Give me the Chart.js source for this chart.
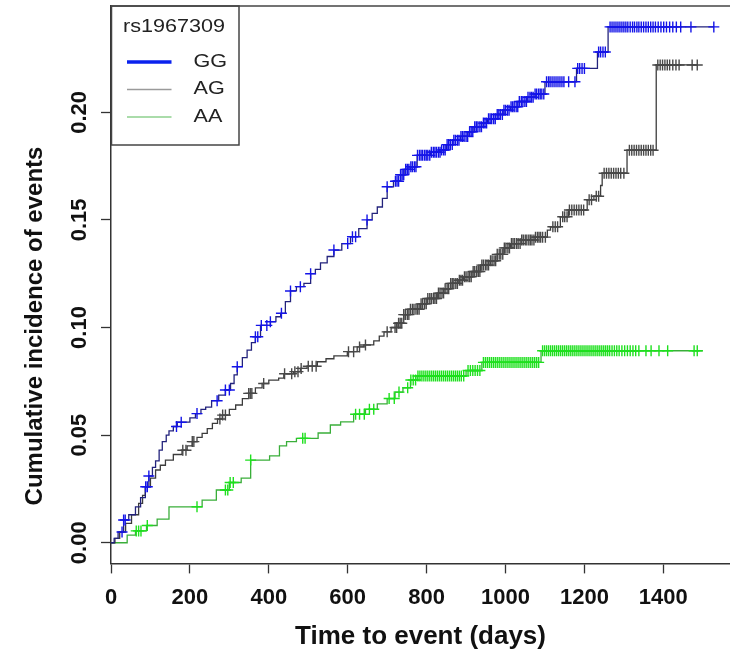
<!DOCTYPE html>
<html>
<head>
<meta charset="utf-8">
<script src="https://cdn.jsdelivr.net/npm/chart.js@4.4.1/dist/chart.umd.min.js"></script>
<style>
html,body{margin:0;padding:0;background:#ffffff;}
#wrap{width:730px;height:658px;position:relative;}
</style>
</head>
<body>
<div id="wrap"><canvas id="c" width="730" height="658"></canvas></div>
<script>
// ---------- data ----------
const legendTitle = 'rs1967309';
const groupNames = ['GG', 'AG', 'AA'];
const xTicks = [0, 200, 400, 600, 800, 1000, 1200, 1400];
const yTicks = [0, 0.05, 0.10, 0.15, 0.20];
const xTitle = 'Time to event (days)';
const yTitle = 'Cumulative incidence of events';

// step functions: time (days) at which the cumulative incidence jumps to value
const ggTimes  = [0, 8, 18, 32, 45, 62, 75, 87, 96, 105, 113, 122, 130, 140, 147, 158, 168, 200, 214, 228, 240, 255, 273, 290, 303, 312, 320, 333, 345, 356, 366, 379, 404, 418, 430, 442, 455, 470, 489, 506, 518, 531, 548, 565, 585, 607, 628, 649, 662, 675, 688, 700, 716, 734, 745, 759, 776, 810, 835, 850, 866, 886, 905, 920, 940, 954, 975, 996, 1013, 1035, 1055, 1075, 1100, 1180, 1233, 1260, 1528];
const ggValues = [0, 0.002, 0.005, 0.0106, 0.013, 0.0167, 0.021, 0.026, 0.031, 0.035, 0.038, 0.043, 0.047, 0.050, 0.052, 0.054, 0.056, 0.058, 0.060, 0.062, 0.063, 0.066, 0.0686, 0.071, 0.074, 0.078, 0.0818, 0.086, 0.0895, 0.093, 0.0957, 0.101, 0.1027, 0.105, 0.1066, 0.112, 0.117, 0.119, 0.1205, 0.125, 0.127, 0.130, 0.133, 0.136, 0.139, 0.1422, 0.146, 0.150, 0.153, 0.156, 0.160, 0.1654, 0.168, 0.171, 0.1735, 0.1747, 0.180, 0.1815, 0.1825, 0.185, 0.187, 0.1888, 0.191, 0.1933, 0.195, 0.197, 0.199, 0.201, 0.2026, 0.205, 0.207, 0.2085, 0.2142, 0.2204, 0.228, 0.2397, 0.2397];

const agTimes  = [0, 10, 22, 37, 52, 70, 80, 87, 100, 113, 125, 138, 158, 180, 193, 206, 218, 231, 244, 257, 270, 282, 300, 316, 333, 349, 366, 383, 400, 425, 438, 463, 480, 497, 523, 545, 565, 599, 624, 641, 666, 680, 692, 710, 725, 742, 759, 784, 802, 827, 844, 861, 880, 894, 915, 937, 958, 979, 996, 1013, 1040, 1075, 1106, 1114, 1139, 1160, 1207, 1224, 1241, 1245, 1308, 1382, 1486];
const agValues = [0, 0.002, 0.005, 0.009, 0.013, 0.0183, 0.022, 0.026, 0.030, 0.0338, 0.036, 0.0384, 0.041, 0.043, 0.045, 0.047, 0.049, 0.0508, 0.053, 0.0555, 0.0575, 0.0593, 0.062, 0.064, 0.067, 0.0694, 0.072, 0.074, 0.0756, 0.0765, 0.0785, 0.0795, 0.081, 0.082, 0.0841, 0.0855, 0.0868, 0.0888, 0.091, 0.0919, 0.0938, 0.096, 0.098, 0.100, 0.102, 0.106, 0.1085, 0.111, 0.1135, 0.116, 0.118, 0.1205, 0.122, 0.1236, 0.126, 0.129, 0.131, 0.134, 0.137, 0.139, 0.1407, 0.142, 0.1453, 0.1468, 0.1515, 0.1546, 0.1594, 0.161, 0.166, 0.1717, 0.1824, 0.222, 0.222];

const aaTimes  = [0, 41, 62, 90, 117, 147, 231, 267, 300, 330, 354, 402, 427, 445, 470, 525, 556, 582, 615, 645, 675, 700, 720, 740, 759, 776, 900, 940, 1090, 1500];
const aaValues = [0, 0.0035, 0.0055, 0.008, 0.011, 0.0167, 0.0198, 0.0245, 0.028, 0.030, 0.0384, 0.0404, 0.045, 0.047, 0.0485, 0.051, 0.0547, 0.0562, 0.0597, 0.062, 0.0645, 0.067, 0.070, 0.072, 0.0756, 0.0775, 0.0800, 0.0838, 0.0892, 0.0892];

// censoring times (+ marks)
const ggCensor = [28, 32, 36, 88, 92, 96, 166, 178, 218, 269, 290, 300, 320, 366, 372, 381, 395, 404, 432, 455, 480, 506, 565, 600, 612, 620, 649, 700, 721, 725, 729, 734, 738, 742, 747, 751, 755, 760, 764, 769, 773, 777, 782, 786, 790, 795, 799, 803, 808, 812, 817, 821, 825, 830, 834, 838, 843, 847, 852, 856, 860, 865, 869, 873, 878, 882, 887, 891, 895, 900, 904, 909, 913, 917, 922, 926, 930, 935, 939, 944, 948, 952, 957, 961, 965, 970, 974, 979, 983, 987, 992, 996, 1000, 1005, 1009, 1014, 1018, 1022, 1027, 1031, 1035, 1040, 1044, 1049, 1053, 1057, 1062, 1066, 1070, 1075, 1079, 1084, 1088, 1092, 1097, 1104, 1109, 1113, 1118, 1123, 1128, 1133, 1138, 1143, 1148, 1160, 1176, 1183, 1188, 1194, 1200, 1236, 1241, 1247, 1253, 1265, 1270, 1275, 1280, 1285, 1290, 1295, 1300, 1305, 1310, 1316, 1322, 1327, 1333, 1338, 1344, 1350, 1356, 1362, 1368, 1374, 1380, 1387, 1394, 1401, 1408, 1416, 1424, 1433, 1444, 1470, 1528];
const agCensor = [182, 190, 206, 210, 276, 283, 290, 349, 353, 357, 387, 440, 458, 466, 474, 482, 500, 510, 520, 602, 615, 630, 645, 700, 720, 724, 729, 733, 737, 742, 746, 751, 755, 759, 764, 768, 773, 777, 781, 786, 790, 795, 799, 803, 808, 812, 817, 821, 825, 830, 834, 839, 843, 847, 852, 856, 861, 865, 869, 874, 878, 883, 887, 891, 896, 900, 905, 909, 913, 918, 922, 927, 931, 935, 940, 944, 949, 953, 957, 962, 966, 971, 975, 979, 984, 988, 993, 997, 1001, 1006, 1010, 1015, 1019, 1023, 1028, 1032, 1037, 1041, 1045, 1050, 1054, 1059, 1063, 1067, 1072, 1076, 1081, 1085, 1089, 1094, 1101, 1120, 1126, 1132, 1145, 1150, 1156, 1162, 1168, 1174, 1180, 1186, 1192, 1198, 1212, 1218, 1230, 1236, 1250, 1256, 1262, 1268, 1274, 1280, 1286, 1292, 1300, 1314, 1320, 1326, 1332, 1338, 1344, 1350, 1356, 1362, 1368, 1374, 1386, 1392, 1398, 1404, 1410, 1416, 1424, 1432, 1440, 1473, 1486];
const aaCensor = [64, 70, 76, 92, 218, 290, 296, 302, 310, 354, 486, 492, 620, 630, 642, 655, 666, 705, 718, 730, 752, 760, 766, 772, 778, 783, 788, 793, 798, 803, 808, 813, 818, 823, 828, 833, 838, 843, 848, 853, 858, 863, 868, 873, 878, 883, 888, 894, 905, 911, 917, 923, 929, 935, 944, 949, 954, 959, 964, 969, 974, 979, 984, 989, 994, 999, 1004, 1009, 1014, 1019, 1024, 1029, 1034, 1039, 1044, 1049, 1054, 1059, 1064, 1069, 1074, 1079, 1084, 1094, 1099, 1104, 1109, 1114, 1119, 1124, 1129, 1134, 1139, 1144, 1149, 1154, 1159, 1164, 1169, 1174, 1179, 1184, 1189, 1194, 1199, 1204, 1209, 1214, 1219, 1224, 1229, 1234, 1239, 1244, 1249, 1254, 1259, 1264, 1270, 1276, 1282, 1288, 1295, 1302, 1309, 1316, 1323, 1330, 1338, 1356, 1369, 1389, 1411, 1478, 1486];

// ---------- styling ----------
const FONT = "'Liberation Sans', Arial, Helvetica, sans-serif";
const lineColors   = ['#23237c', '#3c3c3c', '#3aae3a'];
const markColors   = ['#1414e8', '#484848', '#1ee01e'];
const legendColors = ['#0a22ee', '#9a9a9a', '#8ed08e'];
const legendWidths = [3.5, 1.5, 1.5];

function stepValue(times, values, t) {
  let v = values[0];
  for (let i = 0; i < times.length; i++) { if (times[i] <= t) v = values[i]; }
  return v;
}
function toPts(times, values) { return times.map((t, i) => ({x: t, y: values[i]})); }
function censorPts(times, values, cens) { return cens.map(t => ({x: t, y: stepValue(times, values, t)})); }

const series = [
  {name: groupNames[0], times: ggTimes, values: ggValues, cens: ggCensor},
  {name: groupNames[1], times: agTimes, values: agValues, cens: agCensor},
  {name: groupNames[2], times: aaTimes, values: aaValues, cens: aaCensor}
];

const datasets = [];
series.forEach((s, i) => {
  datasets.push({
    label: s.name + ' censored', data: censorPts(s.times, s.values, s.cens),
    showLine: false, pointStyle: 'cross', pointRadius: 5.5, pointHoverRadius: 5.5,
    pointBorderColor: markColors[i], borderColor: markColors[i], pointBorderWidth: 1.4, order: 0
  });
});
series.forEach((s, i) => {
  datasets.push({
    label: s.name, data: toPts(s.times, s.values), stepped: true,
    borderColor: lineColors[i], borderWidth: 1.3, pointRadius: 0, fill: false, order: 1
  });
});

const legendPlugin = {
  id: 'rlegend',
  afterDraw(chart) {
    const ctx = chart.ctx;
    const a = chart.chartArea;
    const bx = a.left + 0.5, by = a.top, bw = 127.5, bh = 139;
    ctx.save();
    ctx.fillStyle = '#ffffff';
    ctx.fillRect(bx, by, bw, bh);
    ctx.strokeStyle = '#444444';
    ctx.lineWidth = 1.5;
    ctx.strokeRect(bx, by, bw, bh);
    const sx = 1.2;
    ctx.fillStyle = '#222222';
    ctx.font = '18px ' + FONT;
    ctx.textBaseline = 'middle';
    ctx.save(); ctx.translate(bx + 62.5, by + 21.5); ctx.scale(sx, 1); ctx.textAlign = 'center'; ctx.fillText(legendTitle, 0, 0); ctx.restore();
    groupNames.forEach((n, i) => {
      const yy = by + 56 + i * 27.5;
      ctx.strokeStyle = legendColors[i];
      ctx.lineWidth = legendWidths[i];
      ctx.beginPath(); ctx.moveTo(bx + 15.5, yy); ctx.lineTo(bx + 60, yy); ctx.stroke();
      ctx.save(); ctx.translate(bx + 82, yy); ctx.scale(sx, 1); ctx.textAlign = 'left'; ctx.fillStyle = '#222222'; ctx.fillText(n, 0, 0); ctx.restore();
    });
    ctx.restore();
  }
};
const framePlugin = {
  id: 'frame',
  afterDraw(chart) {
    const ctx = chart.ctx, a = chart.chartArea;
    ctx.save(); ctx.strokeStyle = '#444444'; ctx.lineWidth = 1.5;
    ctx.beginPath(); ctx.moveTo(a.left, a.top); ctx.lineTo(a.right, a.top); ctx.stroke();
    // y axis title (placed as in the reference)
    ctx.translate(35, 326); ctx.rotate(-Math.PI / 2);
    ctx.font = 'bold 24px ' + FONT; ctx.fillStyle = '#111111';
    ctx.textAlign = 'center'; ctx.textBaseline = 'middle';
    ctx.fillText(yTitle, 0, 0);
    ctx.restore();
  }
};

new Chart(document.getElementById('c'), {
  type: 'line',
  data: {datasets},
  options: {
    responsive: false, animation: false, devicePixelRatio: 1,
    layout: {autoPadding: false, padding: {top: 6, right: 0, bottom: 0, left: 0}},
    plugins: {legend: {display: false}, tooltip: {enabled: false}},
    events: [],
    scales: {
      x: {
        type: 'linear', min: 0, max: 1569,
        afterBuildTicks: s => { s.ticks = xTicks.map(v => ({value: v})); },
        afterFit: s => { s.height = 94.6; s.paddingLeft = 0; s.paddingRight = 0; },
        ticks: {autoSkip: false, maxRotation: 0, padding: 11, color: '#111111',
                font: {family: FONT, size: 22, weight: 'bold'}, callback: v => String(v)},
        grid: {drawOnChartArea: false, drawTicks: true, tickLength: 10, tickColor: '#333333', tickWidth: 1.3},
        border: {display: true, color: '#333333', width: 1.5},
        title: {display: true, text: xTitle, color: '#111111', font: {family: FONT, size: 26, weight: 'bold'},
                padding: {top: 0, bottom: 6}}
      },
      y: {
        type: 'linear', min: -0.0096, max: 0.2494,
        afterBuildTicks: s => { s.ticks = yTicks.map(v => ({value: v})); },
        afterFit: s => { s.width = 111; s.paddingTop = 0; s.paddingBottom = 0; },
        ticks: {autoSkip: false, minRotation: 90, maxRotation: 90, crossAlign: 'center', padding: 0,
                color: '#111111', font: {family: FONT, size: 22, weight: 'bold'}, callback: v => v.toFixed(2)},
        grid: {drawOnChartArea: false, drawTicks: true, tickLength: 10, tickColor: '#333333', tickWidth: 1.3},
        border: {display: true, color: '#333333', width: 1.5},
        title: {display: false, text: yTitle}
      }
    }
  },
  plugins: [legendPlugin, framePlugin]
});
</script>
</body>
</html>
